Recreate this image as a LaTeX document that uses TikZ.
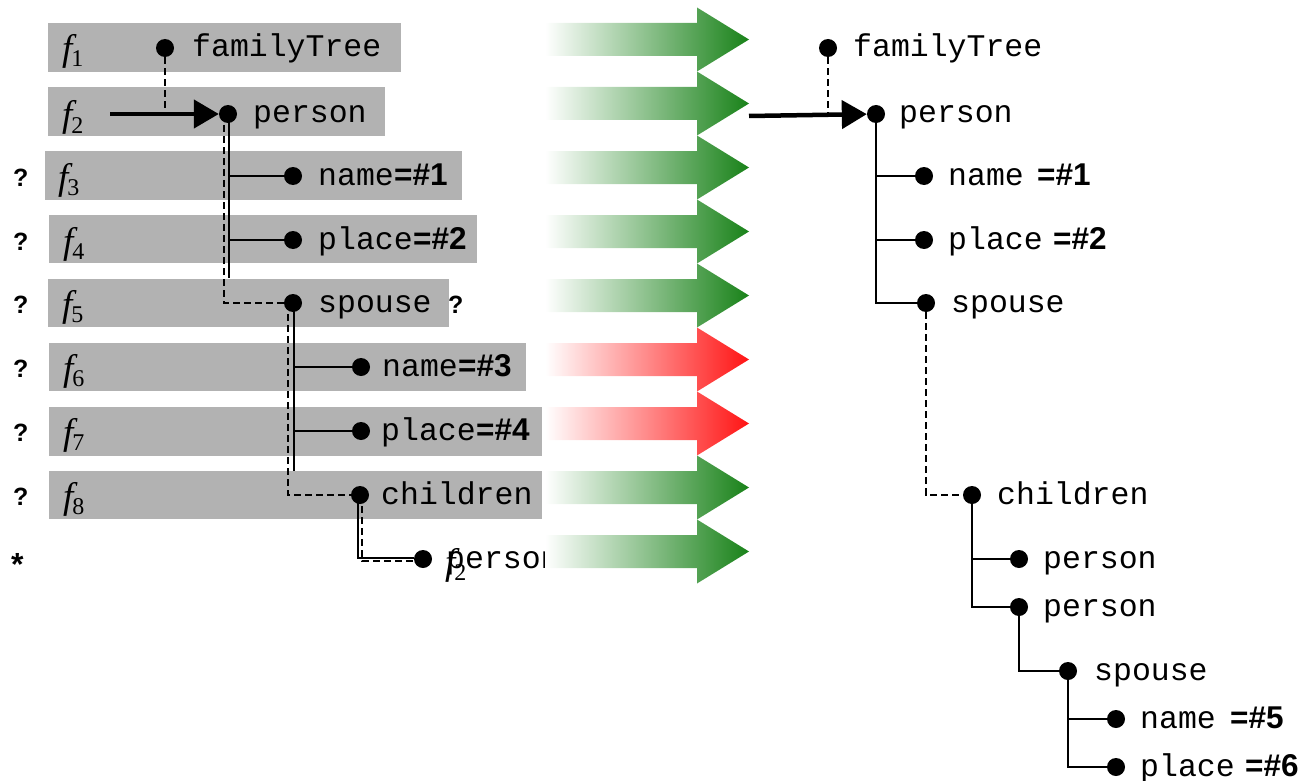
\documentclass[tikz,border=0pt]{standalone}
\usepackage{fontspec}
\usetikzlibrary{arrows.meta}
\newfontfamily\monofnt{Liberation Mono}
\newfontfamily\sansfnt{Liberation Sans}
\newfontfamily\seriffnt{Liberation Serif}
\definecolor{bargray}{RGB}{178,178,178}
\definecolor{grn}{RGB}{25,130,25}
\definecolor{rd}{RGB}{255,20,20}
\newcommand{\flab}[1]{{\seriffnt\itshape\fontsize{37}{37}\selectfont f\kern-1pt\upshape\fontsize{24}{24}\selectfont\raisebox{-6pt}{#1}}}
\begin{document}
\begin{tikzpicture}[x=1pt,y=-1pt,
  dot/.style={circle,fill=black,minimum size=18pt,inner sep=0pt},
  lbl/.style={anchor=base west,inner sep=0pt,font=\monofnt\fontsize{31.5}{32}\selectfont},
  bld/.style={anchor=base west,inner sep=0pt,font=\sansfnt\bfseries\fontsize{31.5}{32}\selectfont},
  qm/.style={anchor=base west,inner sep=0pt,font=\sansfnt\bfseries\fontsize{25}{25}\selectfont},
  flb/.style={anchor=base west,inner sep=0pt},
  bar/.style={fill=bargray,draw=none},
  ln/.style={line width=2pt},
  dsh/.style={line width=1.7pt,dash pattern=on 7pt off 4pt},
  bigarrow/.style={line width=4.5pt,-{Triangle[length=25pt,width=28pt]}}]
\useasboundingbox (0,0) rectangle (1308,781);
% gray bars
\fill[bar] (48,23) rectangle (401,72);
\fill[bar] (48,87) rectangle (385,136);
\fill[bar] (45,151) rectangle (462,200);
\fill[bar] (49,215) rectangle (477,263);
\fill[bar] (48,279) rectangle (449,327);
\fill[bar] (49,343) rectangle (526,391);
\fill[bar] (49,407) rectangle (542,456);
\fill[bar] (49,471) rectangle (542,519);
% f labels
\node[flb] (f1) at (62,61) {\flab{1}};
\node[flb] (f2) at (62,127) {\flab{2}};
\node[flb] (f3) at (58,189) {\flab{3}};
\node[flb] (f4) at (63,253) {\flab{4}};
\node[flb] (f5) at (62,316) {\flab{5}};
\node[flb] (f6) at (63,380) {\flab{6}};
\node[flb] (f7) at (63,444) {\flab{7}};
\node[flb] (f8) at (63,508) {\flab{8}};
\node[flb] (f9) at (445,574) {\flab{2}};
% question marks
\node[qm] (q3) at (13,186) {?};
\node[qm] (q4) at (13,250) {?};
\node[qm] (q5) at (13,313) {?};
\node[qm] (q6) at (13,377) {?};
\node[qm] (q7) at (13,441) {?};
\node[qm] (q8) at (13,505) {?};
\node[qm] (q5b) at (448,313) {?};
\node[anchor=base west,inner sep=0pt,font=\sansfnt\bfseries\fontsize{32}{32}\selectfont] (st) at (11,575) {*};
% left tree dots
\node[dot] (L1) at (165,48) {};
\node[dot] (L2) at (228,114) {};
\node[dot] (L3) at (293,176) {};
\node[dot] (L4) at (293,240) {};
\node[dot] (L5) at (293,303) {};
\node[dot] (L6) at (361,367) {};
\node[dot] (L7) at (361,431) {};
\node[dot] (L8) at (360,495) {};
\node[dot] (L9) at (423,559) {};
% left tree labels
\node[lbl] (t1) at (192,57) {familyTree};
\node[lbl] (t2) at (253,123) {person};
\node[lbl] (t3) at (318,185) {name};
\node[bld] (t3b) at (t3.base east) {=\#1};
\node[lbl] (t4) at (318,249) {place};
\node[bld] (t4b) at (t4.base east) {=\#2};
\node[lbl] (t5) at (318,312) {spouse};
\node[lbl] (t6) at (382,376) {name};
\node[bld] (t6b) at (t6.base east) {=\#3};
\node[lbl] (t7) at (381,440) {place};
\node[bld] (t7b) at (t7.base east) {=\#4};
\node[lbl] (t8) at (381,504) {children};
\node[lbl] (t9) at (446,568) {person};
% left tree connectors
\coordinate (a0) at (110,114);
\draw[dsh] (L1) -- (L1 |- L2);
\draw[bigarrow] (a0) -- (L2);
\draw[ln] ([xshift=1pt]L2.center) |- (L3);
\draw[ln] ([xshift=1pt]L2.center) |- (L4);
\draw[ln] ([xshift=1pt]L2.center) -- ([xshift=1pt,yshift=-164pt]L2.center);
\draw[dsh] ([xshift=-4pt]L2.center) |- (L5);
\draw[ln] ([xshift=1pt]L5.center) |- (L6);
\draw[ln] ([xshift=1pt]L5.center) |- (L7);
\draw[ln] ([xshift=1pt]L5.center) -- ([xshift=1pt,yshift=-168pt]L5.center);
\draw[dsh] ([xshift=-5pt]L5.center) |- (L8);
\draw[ln] ([xshift=-2pt]L8.center) |- ([yshift=1pt]L9.west);
\draw[dsh] ([xshift=2pt]L8.center) |- ([yshift=-2pt]L9.west);
% gradient arrows
\foreach \c/\col in {39.5/grn,103.5/grn,167.5/grn,231.5/grn,295.5/grn,359.5/rd,423.5/rd,487.5/grn,551.5/grn}{
  \shade[left color=white,right color=\col]
    (545,{\c-16.5}) -- (697,{\c-16.5}) -- (697,{\c-32}) -- (749,\c)
    -- (697,{\c+32}) -- (697,{\c+16.5}) -- (545,{\c+16.5}) -- cycle;
}
% right tree
\node[dot] (R1) at (828,48) {};
\node[dot] (R2) at (876,114) {};
\node[dot] (R3) at (924,176) {};
\node[dot] (R4) at (924,240) {};
\node[dot] (R5) at (926,303) {};
\node[dot] (R6) at (972,495) {};
\node[dot] (R7) at (1019,559) {};
\node[dot] (R8) at (1019,607) {};
\node[dot] (R9) at (1068,671) {};
\node[dot] (R10) at (1116,719) {};
\node[dot] (R11) at (1116,767) {};
\node[lbl] (s1) at (853,57) {familyTree};
\node[lbl] (s2) at (899,123) {person};
\node[lbl] (s3) at (948,185) {name};
\node[bld] (s3b) at (1037,185) {=\#1};
\node[lbl] (s4) at (948,249) {place};
\node[bld] (s4b) at (1053,249) {=\#2};
\node[lbl] (s5) at (951,312) {spouse};
\node[lbl] (s6) at (997,504) {children};
\node[lbl] (s7) at (1043,568) {person};
\node[lbl] (s8) at (1043,616) {person};
\node[lbl] (s9) at (1094,680) {spouse};
\node[lbl] (s10) at (1140,728) {name};
\node[bld] (s10b) at (1230,728) {=\#5};
\node[lbl] (s11) at (1140,776) {place};
\node[bld] (s11b) at (1245,776) {=\#6};
\coordinate (a1) at (749,116);
\draw[dsh] (R1) -- (R1 |- R2);
\draw[bigarrow] (a1) -- (R2);
\draw[ln] (R2) |- (R3);
\draw[ln] (R2) |- (R4);
\draw[ln] (R2) |- (R5);
\draw[dsh] (R5) |- (R6);
\draw[ln] (R6) |- (R7);
\draw[ln] (R6) |- (R8);
\draw[ln] (R8) |- (R9);
\draw[ln] (R9) |- (R10);
\draw[ln] (R9) |- (R11);
\end{tikzpicture}
\end{document}
